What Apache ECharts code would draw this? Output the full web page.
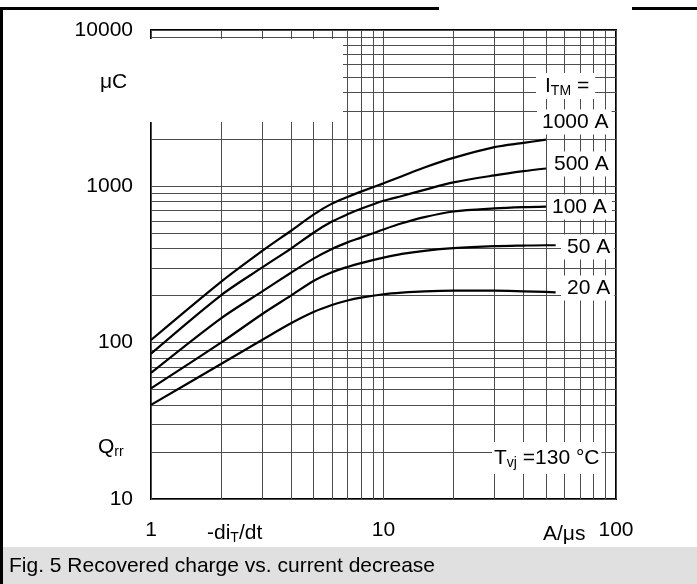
<!DOCTYPE html>
<html>
<head>
<meta charset="utf-8">
<script src="https://cdn.jsdelivr.net/npm/echarts@6/dist/echarts.min.js"></script>
<style>
html, body { margin: 0; padding: 0; background: #fff; }
#chart { width: 697px; height: 584px; }
</style>
</head>
<body>
<div id="chart"></div>
<script>
// Qrr (µC) vs -diT/dt (A/µs), log-log, Tvj = 130 °C
var rates = [1, 2, 3, 4, 5, 6, 7, 8, 10, 12, 15, 20, 30, 40, 50, 55];
var qrr1000A = [104, 245, 385, 520, 660, 775, 855, 925, 1045, 1160, 1320, 1520, 1780, 1895, 1990, null];
var qrr500A  = [85, 201, 302, 400, 505, 595, 662, 718, 808, 868, 950, 1060, 1175, 1250, 1300, null];
var qrr100A  = [64, 143, 212, 280, 345, 398, 438, 470, 530, 580, 635, 690, 722, 736, 742, null];
var qrr50A   = [51, 100, 152, 200, 248, 282, 305, 323, 350, 370, 387, 402, 414, 418, 420, 420];
var qrr20A   = [40, 73, 104, 133, 157, 174, 186, 194, 204, 209, 213, 215, 215, 213, 211, 210];

var xMinorGrid = [2, 3, 4, 5, 6, 7, 8, 9, 20, 30, 40, 50, 60, 70, 80, 90];
var yMinorGrid = [20, 30, 40, 50, 60, 70, 80, 90, 200, 300, 400, 500, 600, 700, 800, 900,
                  2000, 3000, 4000, 5000, 6000, 7000, 8000, 9000];

var FONT = '"Liberation Sans", Arial, sans-serif';
var gridColor = '#4d4d4d';

function pairs(vals) {
  var out = [];
  for (var i = 0; i < rates.length; i++) {
    if (vals[i] != null) out.push([rates[i], vals[i]]);
  }
  return out;
}

function curve(name, vals) {
  return {
    name: name,
    type: 'line',
    data: pairs(vals),
    smooth: 0.3,
    symbol: 'none',
    z: 10,
    lineStyle: { color: '#000', width: 2.2 }
  };
}

// white-boxed annotation text
function tag(text, x, y, pad, rich) {
  var st = {
    x: x, y: y, text: text, fill: '#000',
    fontSize: 21, fontFamily: FONT,
    align: 'left', verticalAlign: 'middle',
    backgroundColor: '#fff', padding: pad
  };
  if (rich) st.rich = rich;
  return { type: 'text', z: 30, style: st };
}

var subRich = {
  m: { fontSize: 21, fontFamily: FONT, lineHeight: 24, fill: '#000' },
  s: { fontSize: 14, fontFamily: FONT, lineHeight: 12, verticalAlign: 'bottom', fill: '#000' }
};

var myChart = echarts.init(document.getElementById('chart'));
myChart.setOption({
  animation: false,
  backgroundColor: '#fff',
  grid: {
    left: 151, top: 30, width: 465, height: 469,
    show: true, borderColor: '#000', borderWidth: 2, backgroundColor: 'transparent'
  },
  xAxis: {
    type: 'log', logBase: 10, min: 1, max: 100,
    axisLine: { show: false },
    axisTick: { show: false },
    splitLine: { show: true, lineStyle: { color: gridColor, width: 1 } },
    axisLabel: {
      margin: 21, color: '#000', fontSize: 21, fontFamily: FONT,
      showMinLabel: true, showMaxLabel: true,
      formatter: function (v) { return String(Math.round(v)); }
    }
  },
  yAxis: {
    type: 'log', logBase: 10, min: 10, max: 10000,
    axisLine: { show: false },
    axisTick: { show: false },
    splitLine: { show: true, lineStyle: { color: gridColor, width: 1 } },
    axisLabel: {
      margin: 18, color: '#000', fontSize: 21, fontFamily: FONT,
      showMinLabel: true, showMaxLabel: true,
      formatter: function (v) { return String(Math.round(v)); }
    }
  },
  series: [
    {
      name: 'grid',
      type: 'line',
      data: [],
      markLine: {
        silent: true,
        symbol: ['none', 'none'],
        label: { show: false },
        lineStyle: { color: gridColor, width: 1, type: 'solid' },
        emphasis: { disabled: true },
        data: xMinorGrid.map(function (v) { return { xAxis: v }; })
          .concat(yMinorGrid.map(function (v) { return { yAxis: v }; }))
      }
    },
    curve('1000 A', qrr1000A),
    curve('500 A', qrr500A),
    curve('100 A', qrr100A),
    curve('50 A', qrr50A),
    curve('20 A', qrr20A)
  ],
  graphic: [
    // page frame
    { type: 'rect', z: 1, shape: { x: 0, y: 7, width: 439, height: 3 }, style: { fill: '#000' } },
    { type: 'rect', z: 1, shape: { x: 632, y: 7, width: 65, height: 3 }, style: { fill: '#000' } },
    { type: 'rect', z: 1, shape: { x: 0, y: 7, width: 3, height: 577 }, style: { fill: '#000' } },
    { type: 'rect', z: 1, shape: { x: 3, y: 547, width: 694, height: 37 }, style: { fill: '#e0e0e0' } },
    { type: 'text', z: 2, style: { x: 9, y: 566, text: 'Fig. 5 Recovered charge vs. current decrease',
      fill: '#000', fontSize: 21, fontFamily: FONT, align: 'left', verticalAlign: 'middle' } },
    // white patch in the upper-left of the plot
    { type: 'rect', z: 25, shape: { x: 146, y: 39, width: 197, height: 83 }, style: { fill: '#fff' } },
    // axis titles
    { type: 'text', z: 30, style: { x: 100, y: 82, text: 'μC', fill: '#000', fontSize: 21, fontFamily: FONT,
      align: 'left', verticalAlign: 'middle' } },
    { type: 'text', z: 30, style: { x: 98, y: 447, text: '{m|Q}{s|rr}', rich: subRich,
      align: 'left', verticalAlign: 'middle' } },
    { type: 'text', z: 30, style: { x: 207, y: 533, text: '{m|-di}{s|T}{m|/dt}', rich: subRich,
      align: 'left', verticalAlign: 'middle' } },
    { type: 'text', z: 30, style: { x: 543, y: 534, text: 'A/μs', fill: '#000', fontSize: 21, fontFamily: FONT,
      align: 'left', verticalAlign: 'middle' } },
    // curve labels
    tag('{m|I}{s|TM}{m| =}', 536, 86, [1, 6, 1, 9], subRich),
    tag('1000 A', 537, 122, [2, 3, 2, 5]),
    tag('500 A', 547, 164, [2, 4, 2, 7]),
    tag('100 A', 547, 207, [2, 5, 2, 5]),
    tag('50 A', 561, 247, [2, 4, 2, 6]),
    tag('20 A', 561, 288, [2, 4, 2, 6]),
    tag('{m|T}{s|vj}{m| =130 °C}', 492, 458, [4, 2, 4, 2], subRich)
  ]
});
</script>
</body>
</html>
